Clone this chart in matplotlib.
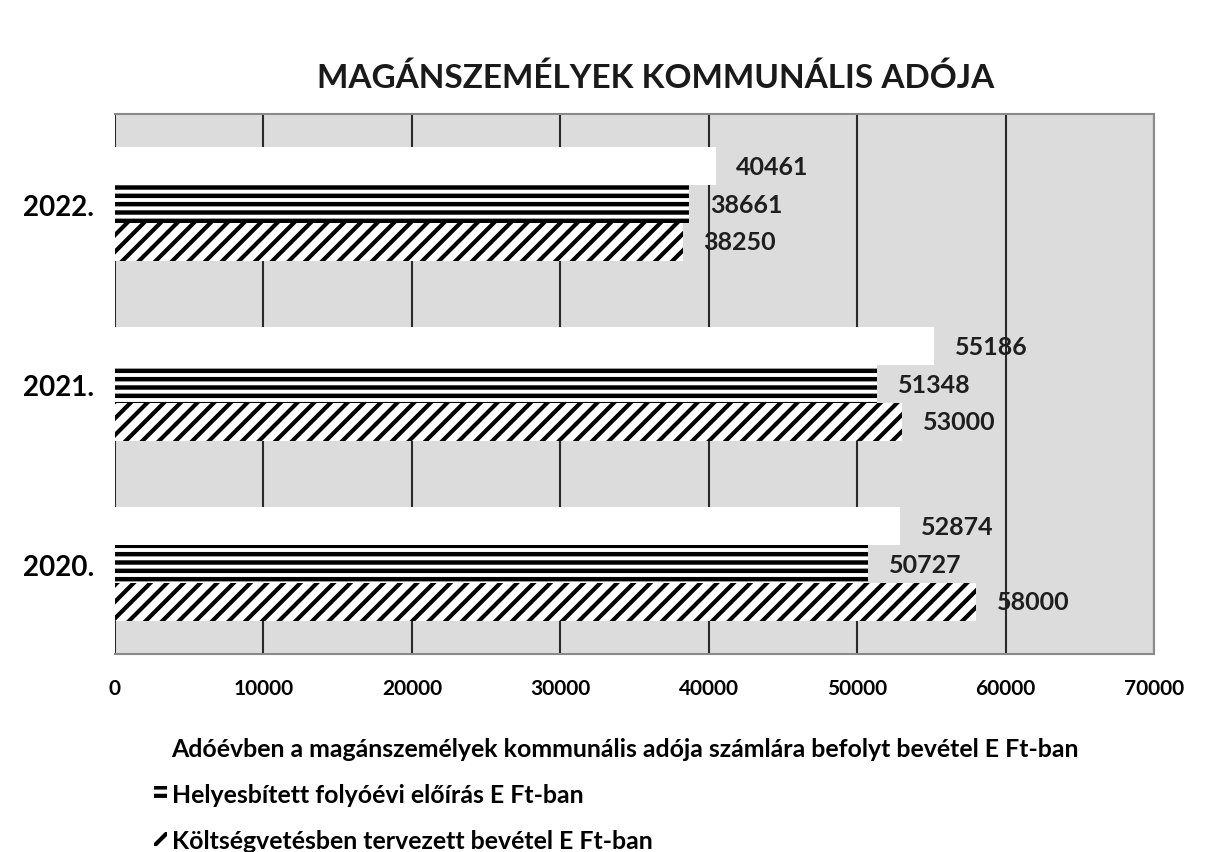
import numpy as np
import matplotlib.pyplot as plt

plt.rcParams['font.family'] = ['Lato', 'DejaVu Sans']

years = ["2020.", "2021.", "2022."]
befolyt = [52874, 55186, 40461]
eloiras = [50727, 51348, 38661]
tervezett = [58000, 53000, 38250]
series_names = [
    "Adóévben a magánszemélyek kommunális adója számlára befolyt bevétel E Ft-ban",
    "Helyesbített folyóévi előírás E Ft-ban",
    "Költségvetésben tervezett bevétel E Ft-ban",
]
xticks = [0, 10000, 20000, 30000, 40000, 50000, 60000, 70000]

fig = plt.figure(figsize=(12.1, 8.53), dpi=100)
ax = fig.add_axes([0.095, 0.232, 0.8587, 0.633])
ax.set_facecolor('#dcdcdc')

y = np.arange(len(years))
h = 0.21

# hatch line width is picked up when each bar set is created
plt.rcParams['hatch.linewidth'] = 3.2
b1 = ax.barh(y + h, befolyt, h, color='white', lw=0, label=series_names[0], zorder=3)
b2 = ax.barh(y, eloiras, h, color='white', edgecolor='black', hatch='--', lw=0,
             label=series_names[1], zorder=3)
plt.rcParams['hatch.linewidth'] = 3.0
b3 = ax.barh(y - h, tervezett, h, color='white', edgecolor='black', hatch='//', lw=0,
             label=series_names[2], zorder=3)

for bars in (b1, b2, b3):
    ax.bar_label(bars, padding=15, fontsize=18, fontweight='bold', color='#1e1e1e')

ax.set_xlim(0, 70000)
ax.set_ylim(-0.5, 2.5)
ax.set_xticks(xticks)
ax.set_xticklabels([str(t) for t in xticks], fontsize=15, fontweight='bold')
ax.set_yticks(y)
ax.set_yticklabels(years, fontsize=20, fontweight='bold')
ax.tick_params(length=0)
ax.tick_params(axis='x', pad=17)
ax.tick_params(axis='y', pad=15)
ax.xaxis.grid(True, color='#2a2a2a', lw=1.5, zorder=1)
ax.set_axisbelow(True)
ax.spines['left'].set_visible(False)
for s in ('top', 'right', 'bottom'):
    ax.spines[s].set_color('#8a8a8a')
    ax.spines[s].set_linewidth(1.5)

fig.text(0.542, 0.909, "MAGÁNSZEMÉLYEK KOMMUNÁLIS ADÓJA", ha='center', va='center',
         fontsize=24, fontweight='bold', color='#1a1a1a')

fig.legend(handles=[b1, b2, b3], labels=series_names, loc='upper left',
           bbox_to_anchor=(0.1085, 0.161),
           frameon=False, prop={'size': 17.9, 'weight': 'bold'},
           labelspacing=0.92, handlelength=0.55, handleheight=0.5, handletextpad=0.17)

fig.savefig('out.png', dpi=100)
